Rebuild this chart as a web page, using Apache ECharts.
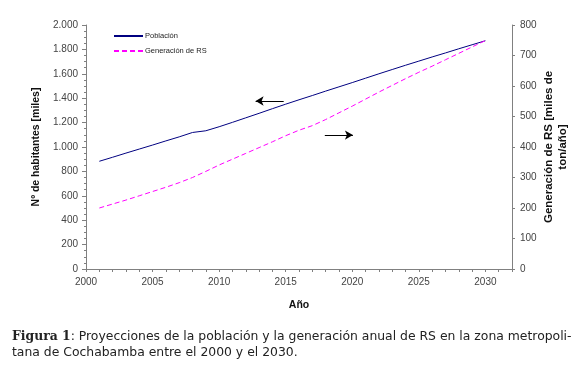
<!DOCTYPE html>
<html><head><meta charset="utf-8">
<script src="https://cdn.jsdelivr.net/npm/echarts@6/dist/echarts.min.js"></script>
<style>html,body{margin:0;padding:0;background:#fff}#c{width:587px;height:377px}</style>
</head><body><div id="c"></div>
<script>
const years = [2001,2002,2003,2004,2005,2006,2007,2008,2009,2010,2011,2012,2013,2014,2015,2016,2017,2018,2019,2020,2021,2022,2023,2024,2025,2026,2027,2028,2029,2030];
const poblacion = [883,916,950,983,1016,1050,1083,1119,1133,1166,1202,1239,1276,1314,1351,1387,1422,1458,1493,1528,1564,1600,1635,1670,1704,1738,1771,1805,1838,1871];
const generacionRS = [200,213,226,240,254,268,283,300,320,341,360,379,398,417,437,455,470,490,512,534,557,580,602,624,645,665,686,707,728,749];
const leftTicks = {min:0, max:2000, interval:200};
const rightTicks = {min:0, max:800, interval:100};
const xTicks = {min:2000, max:2032, interval:5};
const arrowPob = [[2014.85,1377],[2012.74,1377]];
const arrowRS = [[2017.94,439],[2020.05,439]];

const chart = echarts.init(document.getElementById('c'));
const fmtDot = v => String(v).replace(/\B(?=(\d{3})+(?!\d))/g, '.');
const axisCol = '#808080';
const lblFont = {fontFamily:'Liberation Sans, Arial, sans-serif', fontSize:10, color:'#444'};
const titleFont = {fontFamily:'Liberation Sans, Arial, sans-serif', fontSize:10.5, fontWeight:'bold', color:'#111'};
chart.setOption({
  animation:false,
  grid:{left:86, right:75, top:25, bottom:108, containLabel:false, outerBoundsMode:'none'},
  title:{
    left:7, top:324,
    text:'{b|Figura 1}: Proyecciones de la población y la generación anual de RS en la zona metropoli-\ntana de Cochabamba entre el 2000 y el 2030.',
    textStyle:{fontFamily:'DejaVu Sans, sans-serif', fontSize:12.4, fontWeight:'normal', color:'#222', lineHeight:16,
      rich:{b:{fontFamily:'DejaVu Serif, serif', fontWeight:'bold', fontSize:12.4, color:'#222'}}}
  },
  legend:{
    left:108, top:27, orient:'vertical', itemWidth:29, itemHeight:6, itemGap:7,
    itemStyle:{opacity:0},
    textStyle:{fontFamily:'Liberation Sans, Arial, sans-serif', fontSize:7.5, color:'#222', padding:[0,0,0,-3]},
    data:['Población','Generación de RS']
  },
  xAxis:{
    type:'value', min:xTicks.min, max:xTicks.max, interval:xTicks.interval,
    name:'Año', nameLocation:'middle', nameGap:31,
    nameTextStyle:titleFont,
    axisLine:{lineStyle:{color:axisCol}},
    axisTick:{show:true, length:3, lineStyle:{color:axisCol}},
    minorTick:{show:true, splitNumber:5, length:3, lineStyle:{color:axisCol}},
    splitLine:{show:false},
    axisLabel:Object.assign({margin:8, formatter:v => (v%5===0 ? String(v) : ''), showMaxLabel:false}, lblFont)
  },
  yAxis:[{
    type:'value', min:leftTicks.min, max:leftTicks.max, interval:leftTicks.interval, position:'left',
    name:'Nº de habitantes [miles]', nameLocation:'middle', nameGap:44, nameRotate:90,
    nameTextStyle:titleFont,
    axisLine:{show:true, lineStyle:{color:axisCol}},
    axisTick:{show:true, length:4, lineStyle:{color:axisCol}},
    minorTick:{show:true, splitNumber:4, length:2, lineStyle:{color:axisCol}},
    splitLine:{show:false},
    axisLabel:Object.assign({margin:8, formatter:fmtDot}, lblFont)
  },{
    type:'value', min:rightTicks.min, max:rightTicks.max, interval:rightTicks.interval, position:'right',
    name:'Generación de RS [miles de\nton/año]', nameLocation:'middle', nameGap:30, nameRotate:90,
    nameMoveOverlap:false,
    nameTextStyle:Object.assign({}, titleFont, {fontSize:11.5, lineHeight:14, align:'center'}),
    axisLine:{show:true, lineStyle:{color:axisCol}},
    axisTick:{show:true, length:3, lineStyle:{color:axisCol}},
    splitLine:{show:false},
    axisLabel:Object.assign({margin:8}, lblFont)
  }],
  series:[{
    name:'Población', type:'line', yAxisIndex:0, symbol:'none',
    data:years.map((y,i)=>[y,poblacion[i]]),
    lineStyle:{color:'#000080', width:1}, itemStyle:{color:'#000080'},
    markLine:{silent:true, symbol:['none','arrow'], symbolSize:[7,8], label:{show:false},
      lineStyle:{color:'#000', width:1, type:'solid'},
      data:[[{coord:arrowPob[0]},{coord:arrowPob[1]}]]}
  },{
    name:'Generación de RS', type:'line', yAxisIndex:1, symbol:'none',
    data:years.map((y,i)=>[y,generacionRS[i]]),
    lineStyle:{color:'#FF00FF', width:1, type:[5,3]}, itemStyle:{color:'#FF00FF'},
    markLine:{silent:true, symbol:['none','arrow'], symbolSize:[7,8], label:{show:false},
      lineStyle:{color:'#000', width:1, type:'solid'},
      data:[[{coord:arrowRS[0]},{coord:arrowRS[1]}]]}
  }]
});
</script></body></html>
